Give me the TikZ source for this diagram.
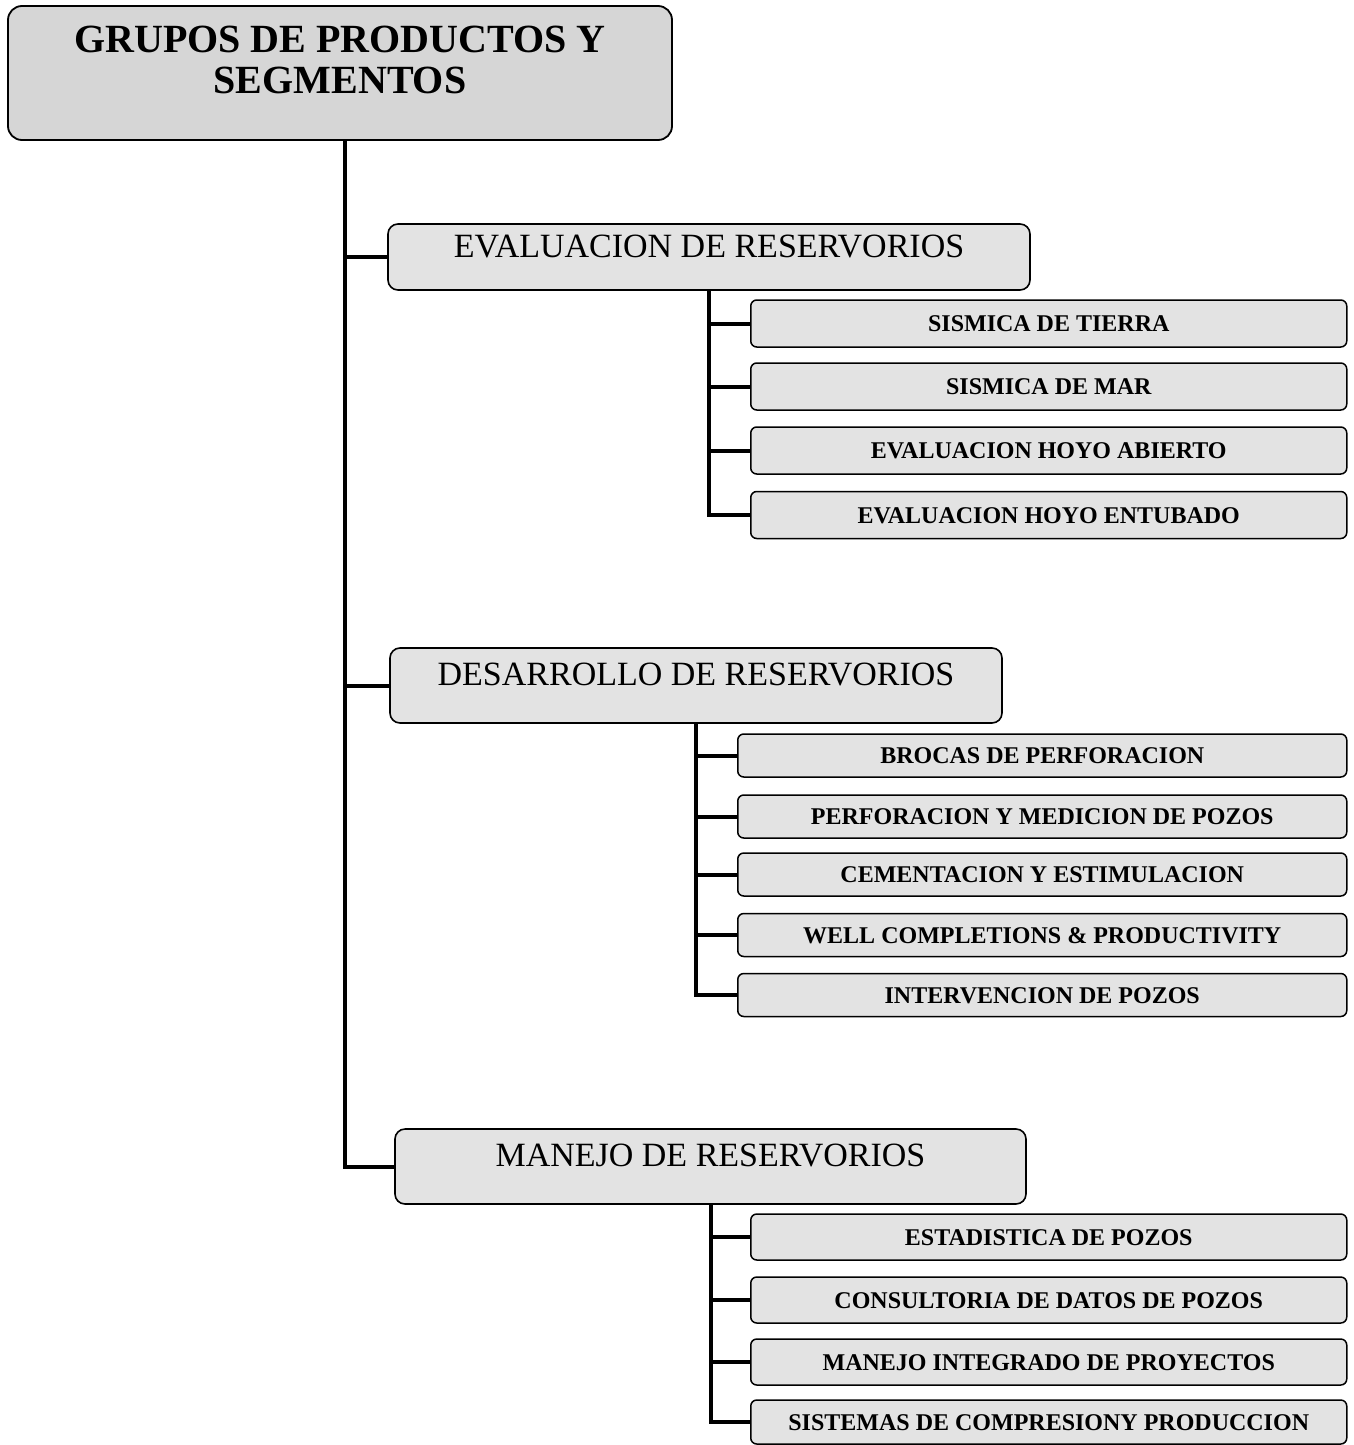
\documentclass[tikz,border=0pt]{standalone}
\usepackage{fontspec}
\setmainfont{Liberation Serif}
\begin{document}
\begin{tikzpicture}[x=1pt,y=-1pt,
	rootbox/.style={rectangle, rounded corners=14pt, draw=black, line width=1.8pt, fill=black!16, inner sep=0pt},
	groupbox/.style={rectangle, rounded corners=10pt, draw=black, line width=1.6pt, fill=black!11, inner sep=0pt, font=\fontsize{34}{36}\selectfont, text height=22pt, text depth=22pt},
	segbox/.style={rectangle, rounded corners=6pt, draw=black, line width=1.5pt, fill=black!11, inner sep=0pt, anchor=west, font=\bfseries\fontsize{24}{26}\selectfont, text height=16pt, text depth=0pt},
	link/.style={line width=4pt}]
	\useasboundingbox (0,0) rectangle (1354,1445);
	% root
	\node[rootbox, minimum width=664pt, minimum height=134pt] (grupos) at (340,73) {\begin{minipage}[c][134pt][t]{664pt}\centering\vspace*{20pt}\bfseries\fontsize{40}{41}\selectfont GRUPOS DE PRODUCTOS Y\\SEGMENTOS\end{minipage}};
	\coordinate (tronco) at ([xshift=5pt]grupos.south);
	% groups
	\node[groupbox, minimum width=642pt, minimum height=66pt] (evaluacion) at (709,257) {EVALUACION DE RESERVORIOS};
	\node[groupbox, minimum width=612pt, minimum height=75pt] (desarrollo) at (696,685.5) {DESARROLLO DE RESERVORIOS};
	\node[groupbox, minimum width=631pt, minimum height=75pt] (manejo) at (710.5,1166.5) {MANEJO DE RESERVORIOS};
	% segments of evaluacion
	\node[segbox, minimum width=596pt, minimum height=47pt] (e1) at (750,323.5) {SISMICA DE TIERRA};
	\node[segbox, minimum width=596pt, minimum height=47pt] (e2) at (750,386.5) {SISMICA DE MAR};
	\node[segbox, minimum width=596pt, minimum height=47pt] (e3) at (750,450.5) {EVALUACION HOYO ABIERTO};
	\node[segbox, minimum width=596pt, minimum height=47pt] (e4) at (750,515) {EVALUACION HOYO ENTUBADO};
	% segments of desarrollo
	\node[segbox, minimum width=609pt, minimum height=43pt] (d1) at (737,755.5) {BROCAS DE PERFORACION};
	\node[segbox, minimum width=609pt, minimum height=43pt] (d2) at (737,816.5) {PERFORACION Y MEDICION DE POZOS};
	\node[segbox, minimum width=609pt, minimum height=43pt] (d3) at (737,874.5) {CEMENTACION Y ESTIMULACION};
	\node[segbox, minimum width=609pt, minimum height=43pt] (d4) at (737,935) {WELL COMPLETIONS \& PRODUCTIVITY};
	\node[segbox, minimum width=609pt, minimum height=43pt] (d5) at (737,995) {INTERVENCION DE POZOS};
	% segments of manejo
	\node[segbox, minimum width=596pt, minimum height=46pt] (m1) at (750,1237) {ESTADISTICA DE POZOS};
	\node[segbox, minimum width=596pt, minimum height=46pt] (m2) at (750,1300) {CONSULTORIA DE DATOS DE POZOS};
	\node[segbox, minimum width=596pt, minimum height=46pt] (m3) at (750,1362) {MANEJO INTEGRADO DE PROYECTOS};
	\node[segbox, minimum width=596pt, minimum height=44pt] (m4) at (750,1422) {SISTEMAS DE COMPRESIONY PRODUCCION};
	% connectors
	\draw[link] (tronco) |- (manejo.west);
	\draw[link] (tronco |- evaluacion.west) -- (evaluacion.west);
	\draw[link] (tronco |- desarrollo.west) -- (desarrollo.west);
	\draw[link] (evaluacion.south) |- (e4.west);
	\foreach \n in {e1,e2,e3}
		\draw[link] (evaluacion.south |- \n.west) -- (\n.west);
	\draw[link] (desarrollo.south) |- (d5.west);
	\foreach \n in {d1,d2,d3,d4}
		\draw[link] (desarrollo.south |- \n.west) -- (\n.west);
	\draw[link] (manejo.south) |- (m4.west);
	\foreach \n in {m1,m2,m3}
		\draw[link] (manejo.south |- \n.west) -- (\n.west);
\end{tikzpicture}
\end{document}
